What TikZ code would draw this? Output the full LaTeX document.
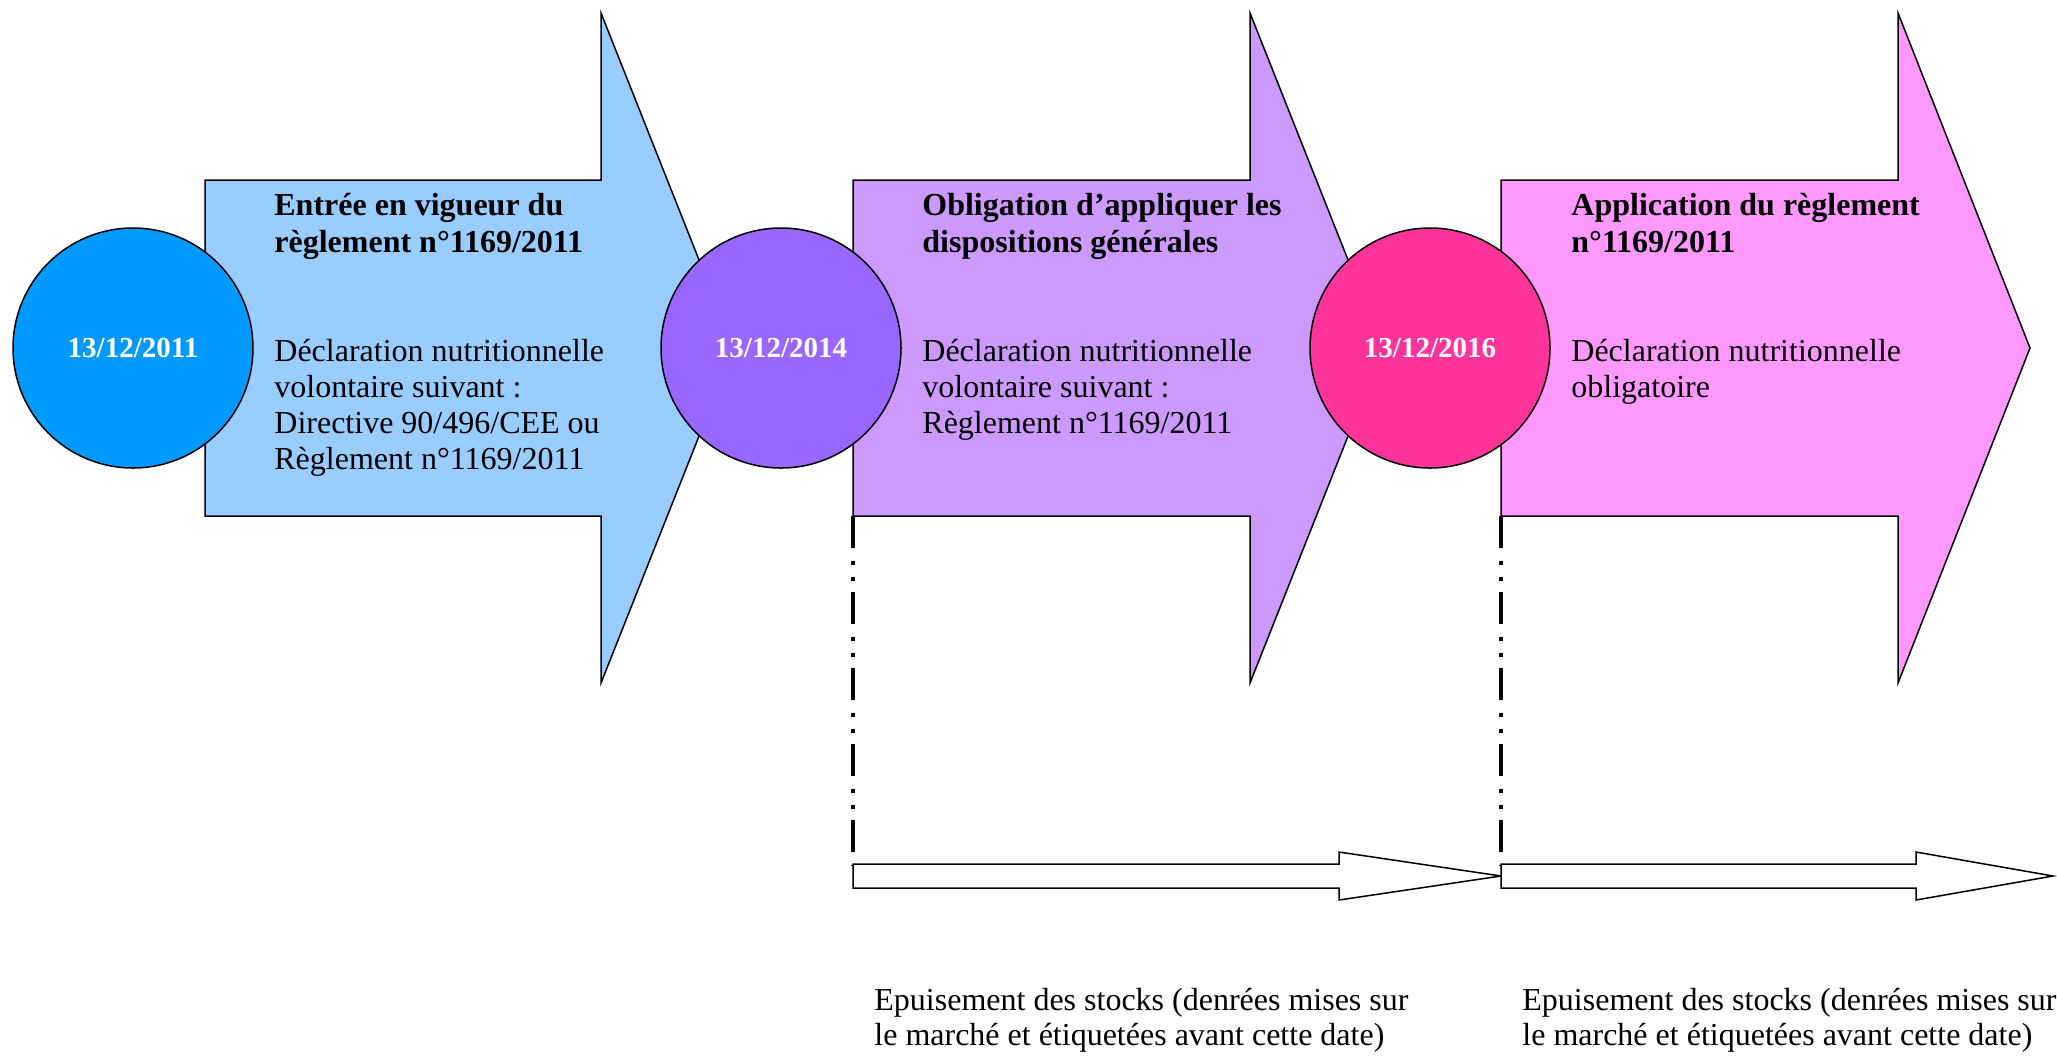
\documentclass[tikz,border=0pt]{standalone}
\usepackage{fontspec}
\setmainfont{Liberation Serif}
\definecolor{arrA}{HTML}{99CCFF}
\definecolor{discA}{HTML}{0099FF}
\definecolor{arrB}{HTML}{CC99FF}
\definecolor{discB}{HTML}{9966FF}
\definecolor{arrC}{HTML}{FF99FF}
\definecolor{discC}{HTML}{FF3399}
\begin{document}
\begin{tikzpicture}[x=0.5pt,y=-0.5pt,
  bigarrow/.style={draw=black, line width=0.75pt, line join=miter},
  disc/.style={circle, draw=black, line width=0.75pt, minimum size=120pt, inner sep=0pt,
     text=white, font=\bfseries\fontsize{14.5}{16}\selectfont},
  titletext/.style={anchor=base west, align=left, inner sep=0pt, font=\bfseries\fontsize{16}{18.5}\selectfont},
  bodytext/.style={anchor=base west, align=left, inner sep=0pt, font=\fontsize{16}{18}\selectfont},
  notetext/.style={anchor=base west, align=left, inner sep=0pt, font=\fontsize{16}{17.5}\selectfont},
  guide/.style={line width=2pt, line cap=butt, dash pattern=on 16pt off 6.25pt on 2pt off 6.25pt on 2pt off 5.5pt},
  hollow/.style={draw=black, fill=white, line width=0.75pt, line join=miter}]
\useasboundingbox (0,0) rectangle (2057,1057);

% big arrows
\path[bigarrow, fill=arrA] (205,180) -- (601,180) -- (601,13) -- (734,348) -- (601,683) -- (601,516) -- (205,516) -- cycle;
\path[bigarrow, fill=arrB] (853,180) -- (1250,180) -- (1250,13) -- (1383,348) -- (1250,683) -- (1250,516) -- (853,516) -- cycle;
\path[bigarrow, fill=arrC] (1501,180) -- (1898,180) -- (1898,13) -- (2030,348) -- (1898,683) -- (1898,516) -- (1501,516) -- cycle;

% texts in arrows (anchored at the baseline of their last line)
\node[titletext] (t1) at (274,252) {Entrée en vigueur du\\règlement n°1169/2011};
\node[bodytext] (b1) at (274,469) {Déclaration nutritionnelle\\volontaire suivant :\\Directive 90/496/CEE ou\\Règlement n°1169/2011};
\node[titletext] (t2) at (922,252) {Obligation d’appliquer les\\dispositions générales};
\node[bodytext] (b2) at (922,433) {Déclaration nutritionnelle\\volontaire suivant :\\Règlement n°1169/2011};
\node[titletext] (t3) at (1571,252) {Application du règlement\\n°1169/2011};
\node[bodytext] (b3) at (1571,397) {Déclaration nutritionnelle\\obligatoire};

% date discs
\node[disc, fill=discA] (d1) at (133,348) {13/12/2011};
\node[disc, fill=discB] (d2) at (781,348) {13/12/2014};
\node[disc, fill=discC] (d3) at (1430,348) {13/12/2016};

% guide lines
\coordinate (g1top) at (853,516);
\coordinate (g1bot) at (853,866);
\coordinate (g2top) at (1501,516);
\coordinate (g2bot) at (1501,866);
\draw[guide] (g1top) -- (g1bot);
\draw[guide] (g2top) -- (g2bot);

% hollow arrows
\path[hollow] (853,864) -- (1339,864) -- (1339,852) -- (1501,876) -- (1339,900) -- (1339,888) -- (853,888) -- cycle;
\path[hollow] (1501,864) -- (1916,864) -- (1916,852) -- (2053,876) -- (1916,900) -- (1916,888) -- (1501,888) -- cycle;

% notes
\node[notetext] (n1) at (874,1045) {Epuisement des stocks (denrées mises sur\\le marché et étiquetées avant cette date)};
\node[notetext] (n2) at (1522,1045) {Epuisement des stocks (denrées mises sur\\le marché et étiquetées avant cette date)};
\end{tikzpicture}
\end{document}
